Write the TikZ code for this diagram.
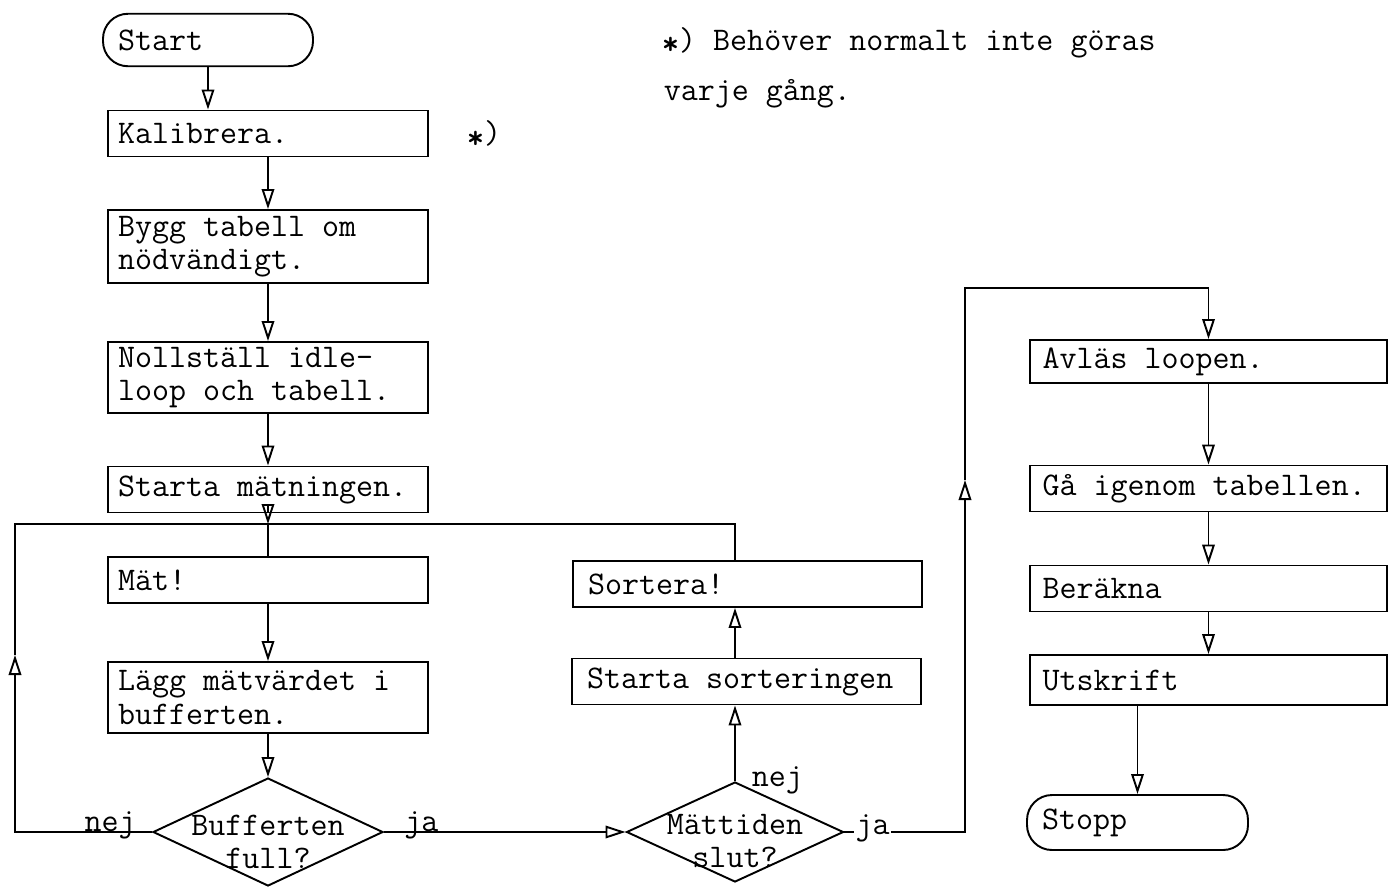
\documentclass[tikz,border=0pt]{standalone}
\usepackage{fontspec}
\usepackage{tikz}
\usetikzlibrary{arrows.meta}
\usetikzlibrary{shapes.geometric}

\newcommand{\fotnot}{\textbf{\raisebox{-0.35ex}{*}})}

\begin{document}
\begin{tikzpicture}[
    every node/.style={font=\fontsize{18.8}{19}\selectfont\ttfamily},
    line width=1.1pt,
    >={Triangle[open,length=0.4cm,width=0.25cm]},
    box/.style={draw, align=flush left, inner ysep=0.08cm, minimum height=0.92cm},
    lbox/.style={box, inner xsep=0.2cm, text width=6.0cm},
    mbox/.style={box, inner xsep=0.3cm, text width=6.38cm},
    rbox/.style={box, inner xsep=0.25cm, text width=6.64cm},
    term/.style={draw, rounded corners=0.5cm, align=flush left, inner xsep=0.3cm, minimum height=1.05cm, text width=#1},
    beslut/.style={draw, diamond, inner sep=0pt}
  ]
  \useasboundingbox (0,0) rectangle (27.78,-17.8);

  % vänstra kolumnen
  \node[term=3.6cm] (start) at (4.16,-0.80) {Start};
  \node[lbox] (kalib) at (5.36,-2.67) {Kalibrera.};
  \node (fot) at (9.68,-2.70) {\fotnot};
  \node[lbox, minimum height=1.46cm] (bygg) at (5.36,-4.93) {Bygg tabell om\\nödvändigt.};
  \node[lbox, minimum height=1.42cm] (noll) at (5.36,-7.55) {Nollställ idle-\\loop och tabell.};
  \node[lbox] (startm) at (5.36,-9.79) {Starta mätningen.};
  \node[lbox] (mat) at (5.36,-11.60) {Mät!};
  \node[lbox, minimum height=1.42cm] (lagg) at (5.36,-13.95) {Lägg mätvärdet i\\bufferten.};
  \node[beslut, minimum width=4.6cm, minimum height=2.16cm,
        label={[align=center,yshift=-0.2cm]center:Bufferten\\full?}] (buff) at (5.36,-16.64) {};

  % mitten
  \node[mbox] (sort) at (14.95,-11.68) {Sortera!};
  \node[mbox] (sortstart) at (14.93,-13.63) {Starta sorteringen};
  \node[beslut, minimum width=4.34cm, minimum height=2.0cm,
        label={[align=center,yshift=-0.18cm]center:Mättiden\\slut?}] (matt) at (14.70,-16.64) {};

  % högra kolumnen
  \node[rbox, minimum height=0.86cm] (avlas) at (24.17,-7.23) {Avläs loopen.};
  \node[rbox] (ga) at (24.17,-9.77) {Gå igenom tabellen.};
  \node[rbox] (berakna) at (24.17,-11.77) {Beräkna};
  \node[rbox, minimum height=1.0cm] (utskr) at (24.17,-13.60) {Utskrift};
  \node[term=3.82cm, minimum height=1.1cm] (stopp) at (22.75,-16.45) {Stopp};

  \node[anchor=base west] (not1) at (13.1,-1.0) {\fotnot{} Behöver normalt inte göras};
  \node[anchor=base west] (not2) at (13.14,-2.0) {varje gång.};

  \coordinate (knut) at (5.36,-10.48);
  \coordinate (vh) at (0.30,-13.1);
  \coordinate (vo) at (0.30,-10.48);
  \coordinate (ho) at (14.70,-10.48);
  \coordinate (hh) at (19.30,-9.6);
  \coordinate (ht) at (19.30,-5.76);

  \draw[->] (start.south) -- (start.south |- kalib.north);
  \draw[->] (kalib) -- (bygg);
  \draw[->] (bygg) -- (noll);
  \draw[->] (noll) -- (startm);
  \draw[->] (startm) -- (knut);
  \draw (knut) -- (mat);
  \draw[->] (mat) -- (lagg);
  \draw[->] (lagg) -- (buff);

  \draw[->] (buff.west) -| (vh);
  \draw (vh) -- (vo) -- (ho) -- (ho |- sort.north);
  \draw[->] (buff.east) -- (matt.west);
  \draw[->] (matt.north) -- (matt.north |- sortstart.south);
  \draw[->] (sortstart.north -| matt.north) -- (matt.north |- sort.south);

  \draw[->] (matt.east) -| (hh);
  \draw[->] (hh) -- (ht) -| (avlas.north);
  \draw[->] (avlas) -- (ga);
  \draw[->] (ga) -- (berakna);
  \draw[->] (berakna) -- (utskr);
  \draw[->] (utskr.south -| stopp.north) -- (stopp.north);

  \node[anchor=base east] (nej1) at (2.85,-16.62) {nej};
  \node[anchor=base west] (ja1) at (7.95,-16.62) {ja};
  \node[anchor=west] (nej2) at (14.90,-15.60) {nej};
  \node[fill=white, inner xsep=1pt] (ja2) at (17.45,-16.56) {ja};
\end{tikzpicture}
\end{document}
